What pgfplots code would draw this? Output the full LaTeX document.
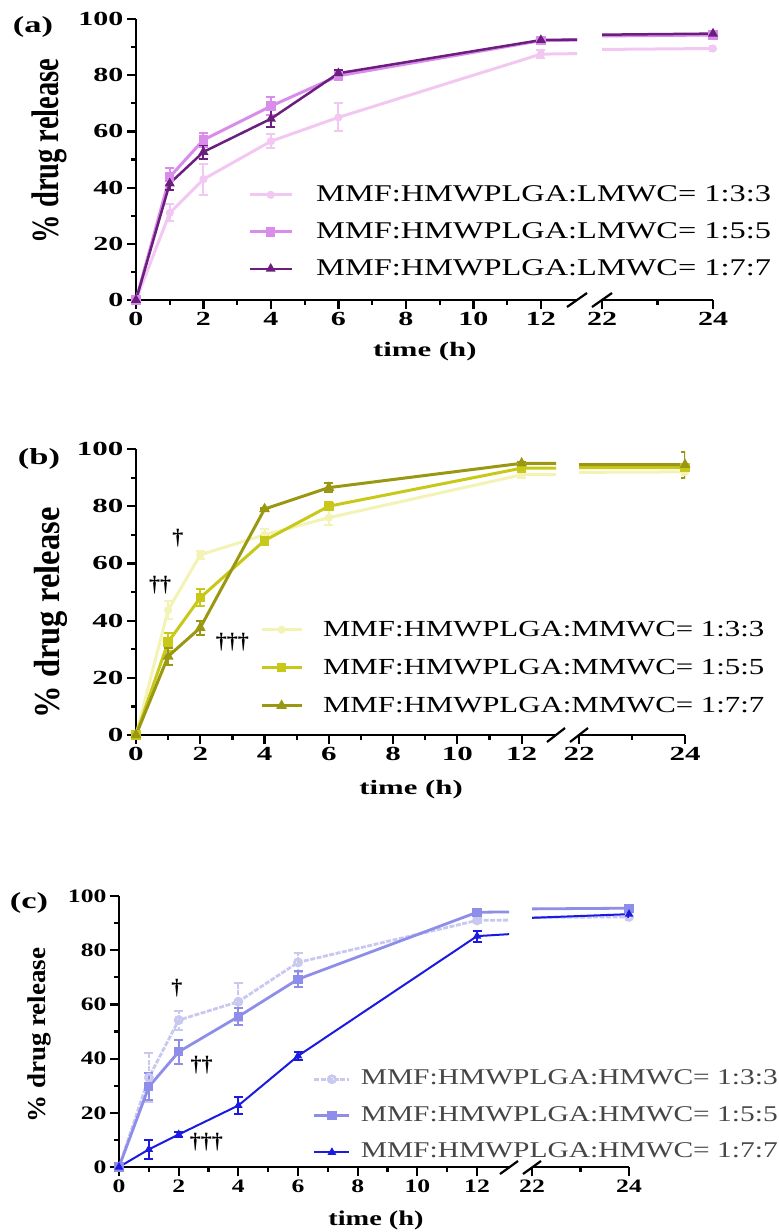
\documentclass[border=0pt]{standalone}
\usepackage{graphicx}
\usepackage{pgfplots}
\pgfplotsset{compat=1.18}
\usepackage{fontspec}
\setmainfont{Liberation Serif}
\newfontfamily\fA[FakeStretch=1.5, BoldFeatures={FakeStretch=1.5}]{Liberation Serif}
\newfontfamily\fB[FakeStretch=1.55, BoldFeatures={FakeStretch=1.55}]{Liberation Serif}
\newfontfamily\fC[FakeStretch=1.35, BoldFeatures={FakeStretch=1.35}]{Liberation Serif}
\newfontfamily\lA[FakeStretch=1.35]{Liberation Serif}
\newfontfamily\lB[FakeStretch=1.34]{Liberation Serif}
\newfontfamily\lC[FakeStretch=1.31]{Liberation Serif}

\definecolor{a1}{HTML}{F2C8F2}
\definecolor{a2}{HTML}{DA8CEB}
\definecolor{a3}{HTML}{6B1E7E}
\definecolor{b1}{HTML}{F3F3B5}
\definecolor{b2}{HTML}{C8C818}
\definecolor{b3}{HTML}{9A9812}
\definecolor{c1}{HTML}{C8C8F0}
\definecolor{c2}{HTML}{8E8EEA}
\definecolor{c3}{HTML}{1A1AE0}
\definecolor{legc}{HTML}{464646}

\pgfplotsset{
  brk/.style={scale only axis, ymin=0, ymax=100,
    axis line style={line width=2.6pt, black},
    tick style={line width=2.2pt, black},
    tick align=outside, major tick length=9pt, minor tick length=5pt,
    /pgf/number format/assume math mode=true},
  brkL/.style={brk, axis x line*=bottom, axis y line*=left, xmin=0, xmax=13.07,
    xtick={0,2,...,12}, minor xtick={1,3,...,11},
    ytick={0,20,...,100}, minor ytick={10,30,...,90}},
  brkR/.style={brk, axis x line*=bottom, axis y line=none, xmin=22, xmax=24,
    xtick={22,24}, minor xtick={23}, ytick=\empty},
  eb/.style={error bars/.cd, y dir=both, y explicit,
    error bar style={line width=2pt},
    error mark options={rotate=90, line width=2pt, mark size=4.5pt}},
}

\begin{document}
\begin{tikzpicture}
\useasboundingbox (0pt,0pt) rectangle (779pt,-1232pt);

% ================= (a) =================
\begin{axis}[brkL, at={(136pt,-300pt)}, anchor=south west, width=441pt, height=281pt,
  ticklabel style={font=\fA\fontsize{20}{22}\selectfont\bfseries},
  xlabel={time (h)},
  ylabel={\scalebox{1}[1.35]{\fontsize{28.5}{30}\selectfont\bfseries\% drug release}},
  every axis x label/.style={at={(axis description cs:0.655,-0.185)}, anchor=center, font=\fA\fontsize{20.5}{22}\selectfont\bfseries},
  every axis y label/.style={at={(axis description cs:-0.197,0.53)}, anchor=center, rotate=90},
  legend style={at={(axis description cs:0.254,0.416)}, anchor=north west, draw=none, fill=none, inner sep=0pt,
    font=\lA\fontsize{24}{26}\selectfont, row sep=14pt,
    nodes={inner sep=0pt, text height=18pt, text depth=5pt},
    /tikz/every odd column/.append style={column sep=23pt}},
  legend cell align=left,
  legend image code/.code={\draw[mark repeat=2,mark phase=2,#1] plot coordinates {(0pt,0pt) (21pt,0pt) (42pt,0pt)};},
]
\addplot[a1, line width=3pt, mark=*, mark size=2.5pt, mark options={fill=a1}, eb]
  coordinates {(0,0) +- (0,0) (1,31) +- (0,3) (2,43) +- (0,5.5) (4,56.5) +- (0,2.5) (6,65) +- (0,5) (12,87.5) +- (0,1.5)};
\addlegendentry{MMF:HMWPLGA:LMWC= 1:3:3}
\addplot[a1, line width=3pt, forget plot] coordinates {(12,87.5) (24,89.5)};
\addplot[a2, line width=3pt, mark=square*, mark size=3.2pt, eb]
  coordinates {(0,0) +- (0,0) (1,43.8) +- (0,3) (2,57) +- (0,2.5) (4,69) +- (0,3.3) (6,79.8) +- (0,1.5) (12,92.3) +- (0,1)};
\addlegendentry{MMF:HMWPLGA:LMWC= 1:5:5}
\addplot[a2, line width=3pt, forget plot] coordinates {(12,92.3) (24,94.3)};
\addplot[a3, line width=2.5pt, mark=triangle*, mark size=3.3pt, eb]
  coordinates {(0,0) +- (0,0) (1,41.5) +- (0,2.5) (2,52.7) +- (0,2.5) (4,64.5) +- (0,3) (6,80.7) +- (0,1) (12,92.5) +- (0,0.8)};
\addlegendentry{MMF:HMWPLGA:LMWC= 1:7:7}
\addplot[a3, line width=2.5pt, forget plot] coordinates {(12,92.5) (24,94.8)};
\end{axis}
\begin{axis}[brkR, at={(602pt,-300pt)}, anchor=south west, width=111pt, height=281pt,
  ticklabel style={font=\fA\fontsize{20}{22}\selectfont\bfseries}]
\addplot[a1, line width=3pt] coordinates {(12,87.5) (24,89.5)};
\addplot[a1, line width=3pt, mark=*, mark size=2.5pt, mark options={fill=a1}, eb] coordinates {(24,89.5) +- (0,1)};
\addplot[a2, line width=3pt] coordinates {(12,92.3) (24,94.3)};
\addplot[a2, line width=3pt, mark=square*, mark size=3.2pt, eb] coordinates {(24,94.3) +- (0,1)};
\addplot[a3, line width=2.5pt] coordinates {(12,92.5) (24,94.8)};
\addplot[a3, line width=2.5pt, mark=triangle*, mark size=3.3pt, eb] coordinates {(24,94.8) +- (0,0.8)};
\end{axis}
\draw[line width=2.2pt] (567pt,-307pt) -- (587pt,-293pt);
\draw[line width=2.2pt] (592pt,-307pt) -- (612pt,-293pt);
\node[font=\fA\fontsize{23}{24}\selectfont\bfseries] at (33pt,-27pt) {(a)};

% ================= (b) =================
\begin{axis}[brkL, at={(136pt,-735pt)}, anchor=south west, width=420pt, height=286pt,
  ticklabel style={font=\fB\fontsize{20}{22}\selectfont\bfseries},
  xlabel={time (h)},
  ylabel={\scalebox{1}[1.12]{\fontsize{32.5}{34}\selectfont\bfseries\% drug release}},
  every axis x label/.style={at={(axis description cs:0.655,-0.192)}, anchor=center, font=\fA\fontsize{20.5}{22}\selectfont\bfseries},
  every axis y label/.style={at={(axis description cs:-0.202,0.427)}, anchor=center, rotate=90},
  legend style={at={(axis description cs:0.295,0.409)}, anchor=north west, draw=none, fill=none, inner sep=0pt,
    font=\lB\fontsize{23}{25}\selectfont, row sep=15pt,
    nodes={inner sep=0pt, text height=18pt, text depth=5pt},
    /tikz/every odd column/.append style={column sep=20pt}},
  legend cell align=left,
  legend image code/.code={\draw[mark repeat=2,mark phase=2,#1] plot coordinates {(0pt,0pt) (20pt,0pt) (40pt,0pt)};},
]
\addplot[b1, line width=3pt, mark=*, mark size=2.5pt, mark options={fill=b1}, eb]
  coordinates {(0,0) +- (0,0) (1,43.7) +- (0,3) (2,63) +- (0,1.5) (4,70) +- (0,2) (6,76) +- (0,2.5) (12,91) +- (0,1)};
\addlegendentry{MMF:HMWPLGA:MMWC= 1:3:3}
\addplot[b1, line width=3pt, forget plot] coordinates {(12,91) (24,92)};
\addplot[b2, line width=3pt, mark=square*, mark size=3.2pt, eb]
  coordinates {(0,0) +- (0,0) (1,32.5) +- (0,3) (2,48) +- (0,3) (4,68) +- (0,1.5) (6,80) +- (0,1.5) (12,93.3) +- (0,1)};
\addlegendentry{MMF:HMWPLGA:MMWC= 1:5:5}
\addplot[b2, line width=3pt, forget plot] coordinates {(12,93.3) (24,93.5)};
\addplot[b3, line width=3pt, mark=triangle*, mark size=3.3pt, eb]
  coordinates {(0,0) +- (0,0) (1,27.5) +- (0,3) (2,37.5) +- (0,2.5) (4,79) +- (0,0.5) (6,86.5) +- (0,1.5) (12,95) +- (0,0.5)};
\addlegendentry{MMF:HMWPLGA:MMWC= 1:7:7}
\addplot[b3, line width=3pt, forget plot] coordinates {(12,95) (24,94.5)};
\node[font=\fontsize{22}{24}\selectfont\bfseries] at (axis cs:1.3,68.9) {†};
\node[font=\fontsize{22}{24}\selectfont\bfseries] at (axis cs:0.75,52.4) {††};
\node[font=\fontsize{22}{24}\selectfont\bfseries] at (axis cs:3.0,32.5) {†††};
\end{axis}
\begin{axis}[brkR, at={(579pt,-735pt)}, anchor=south west, width=106pt, height=286pt,
  ticklabel style={font=\fB\fontsize{20}{22}\selectfont\bfseries}]
\addplot[b1, line width=3pt] coordinates {(12,91) (24,92)};
\addplot[b1, line width=3pt, mark=*, mark size=2.5pt, mark options={fill=b1}, eb] coordinates {(24,92) +- (0,1)};
\addplot[b2, line width=3pt] coordinates {(12,93.3) (24,93.5)};
\addplot[b2, line width=3pt, mark=square*, mark size=3.2pt, eb] coordinates {(24,93.5) +- (0,1)};
\addplot[b3, line width=3pt] coordinates {(12,95) (24,94.5)};
\addplot[b3, line width=3pt, mark=triangle*, mark size=3.3pt, eb] coordinates {(24,94.5) +- (0,4.5)};
\end{axis}
\draw[line width=2.2pt] (547pt,-742pt) -- (565pt,-728pt);
\draw[line width=2.2pt] (570pt,-742pt) -- (588pt,-728pt);
\node[font=\fA\fontsize{23}{24}\selectfont\bfseries] at (39pt,-459pt) {(b)};

% ================= (c) =================
\begin{axis}[brkL, at={(119pt,-1167pt)}, anchor=south west, width=390pt, height=271pt,
  ticklabel style={font=\fC\fontsize{19}{20}\selectfont\bfseries},
  xlabel={time (h)},
  ylabel={\scalebox{1}[0.95]{\fontsize{27}{29}\selectfont\bfseries\% drug release}},
  every axis x label/.style={at={(axis description cs:0.659,-0.196)}, anchor=center, font=\fC\fontsize{21}{22}\selectfont\bfseries},
  every axis y label/.style={at={(axis description cs:-0.205,0.487)}, anchor=center, rotate=90},
  legend style={at={(axis description cs:0.497,0.367)}, anchor=north west, draw=none, fill=none, inner sep=0pt,
    font=\lC\fontsize{22.5}{24}\selectfont, text=legc, row sep=13.5pt,
    nodes={inner sep=0pt, text height=17pt, text depth=6pt},
    /tikz/every odd column/.append style={column sep=10pt}},
  legend cell align=left,
  legend image code/.code={\draw[mark repeat=2,mark phase=2,#1] plot coordinates {(0pt,0pt) (17.5pt,0pt) (35pt,0pt)};},
]
\addplot[c1, line width=2.8pt, dash pattern=on 5pt off 1.5pt, mark=o, mark size=3.5pt, mark options={solid, fill=white}, eb]
  coordinates {(0,0) +- (0,0) (1,33) +- (0,9) (2,54.2) +- (0,3.5) (4,61) +- (0,7) (6,75.5) +- (0,3.5) (12,91) +- (0,1)};
\addlegendentry{MMF:HMWPLGA:HMWC= 1:3:3}
\addplot[c1, line width=2.8pt, dash pattern=on 5pt off 1.5pt, forget plot] coordinates {(12,91) (24,92.3)};
\addplot[c2, line width=2.8pt, mark=square*, mark size=3.2pt, eb]
  coordinates {(0,0) +- (0,0) (1,29.6) +- (0,5) (2,42.5) +- (0,4.5) (4,55.5) +- (0,3) (6,69.3) +- (0,3) (12,94) +- (0,1)};
\addlegendentry{MMF:HMWPLGA:HMWC= 1:5:5}
\addplot[c2, line width=2.8pt, forget plot] coordinates {(12,94) (24,95.5)};
\addplot[c3, line width=2pt, mark=triangle*, mark size=3pt, eb]
  coordinates {(0,0) +- (0,0) (1,6.5) +- (0,3.5) (2,12) +- (0,1) (4,22.7) +- (0,3) (6,41) +- (0,1.5) (12,85.2) +- (0,2)};
\addlegendentry{MMF:HMWPLGA:HMWC= 1:7:7}
\addplot[c3, line width=2pt, forget plot] coordinates {(12,85.2) (24,93.3)};
\node[font=\fontsize{22}{24}\selectfont\bfseries] at (axis cs:1.94,66) {†};
\node[font=\fontsize{22}{24}\selectfont\bfseries] at (axis cs:2.77,37.6) {††};
\node[font=\fontsize{22}{24}\selectfont\bfseries] at (axis cs:2.93,9.2) {†††};
\end{axis}
\begin{axis}[brkR, at={(532pt,-1167pt)}, anchor=south west, width=97pt, height=271pt,
  ticklabel style={font=\fC\fontsize{19}{20}\selectfont\bfseries}]
\addplot[c1, line width=2.8pt, dash pattern=on 5pt off 1.5pt] coordinates {(12,91) (24,92.3)};
\addplot[c1, line width=2.8pt, mark=o, mark size=3.5pt, mark options={solid, fill=white}, eb] coordinates {(24,92.3) +- (0,1)};
\addplot[c2, line width=2.8pt] coordinates {(12,94) (24,95.5)};
\addplot[c2, line width=2.8pt, mark=square*, mark size=3.2pt, eb] coordinates {(24,95.5) +- (0,1)};
\addplot[c3, line width=2pt] coordinates {(12,85.2) (24,93.3)};
\addplot[c3, line width=2pt, mark=triangle*, mark size=3pt, eb] coordinates {(24,93.3) +- (0,1)};
\end{axis}
\draw[line width=2.2pt] (500pt,-1174pt) -- (518pt,-1161pt);
\draw[line width=2.2pt] (523pt,-1174pt) -- (541pt,-1161pt);
\node[font=\fA\fontsize{23}{24}\selectfont\bfseries] at (29pt,-903pt) {(c)};
\end{tikzpicture}
\end{document}
